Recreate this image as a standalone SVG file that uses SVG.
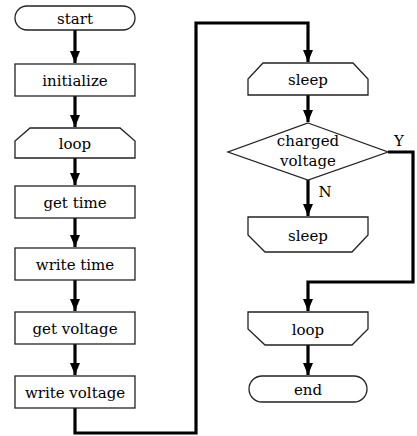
<svg xmlns="http://www.w3.org/2000/svg" width="417" height="436" viewBox="0 0 417 436">
<defs>
<marker id="ah" markerUnits="userSpaceOnUse" markerWidth="12" markerHeight="14" viewBox="0 0 12 14" refX="12" refY="6" orient="auto">
<path d="M0,1 L12,6 L0,11 Z" fill="#000"/>
</marker>
</defs>
<style>
.n{fill:#fff;stroke:#222;stroke-width:1.3}
.t{font-family:"DejaVu Serif",serif;font-size:15px;fill:#000;text-anchor:middle}
.c{fill:none;stroke:#000;stroke-width:3.2}
</style>
<rect width="417" height="436" fill="#fff"/>
<g id="connectors">
<path class="c" d="M75,30 V63" marker-end="url(#ah)"/>
<path class="c" d="M75,96 V127" marker-end="url(#ah)"/>
<path class="c" d="M75,158 V185" marker-end="url(#ah)"/>
<path class="c" d="M75,218 V247" marker-end="url(#ah)"/>
<path class="c" d="M75,280 V311" marker-end="url(#ah)"/>
<path class="c" d="M75,344 V375" marker-end="url(#ah)"/>
<path class="c" d="M75,408 V433 H196 V23 H308 V62" marker-end="url(#ah)"/>
<path class="c" d="M308,95 V122" marker-end="url(#ah)"/>
<path class="c" d="M308,180 V216" marker-end="url(#ah)"/>
<path class="c" d="M388,152 H413 V282 H308 V311" marker-end="url(#ah)"/>
<path class="c" d="M308,345 V375" marker-end="url(#ah)"/>
</g>
<g id="start"><rect class="n" x="15" y="6" width="120" height="24" rx="12"/><text class="t" x="75" y="24">start</text></g>
<g id="initialize"><rect class="n" x="15" y="64" width="120" height="32"/><text class="t" x="75" y="86">initialize</text></g>
<g id="loop1"><path class="n" d="M15,158 V141 L30,128 H120 L135,141 V158 Z"/><text class="t" x="75" y="149">loop</text></g>
<g id="gettime"><rect class="n" x="15" y="186" width="120" height="32"/><text class="t" x="75" y="208">get time</text></g>
<g id="writetime"><rect class="n" x="15" y="248" width="120" height="32"/><text class="t" x="75" y="270">write time</text></g>
<g id="getvoltage"><rect class="n" x="15" y="312" width="120" height="32"/><text class="t" x="75" y="334">get voltage</text></g>
<g id="writevoltage"><rect class="n" x="15" y="376" width="120" height="32"/><text class="t" x="75" y="398">write voltage</text></g>
<g id="sleep1"><path class="n" d="M248,95 V79 L263,63 H353 L368,79 V95 Z"/><text class="t" x="308" y="85">sleep</text></g>
<g id="decision"><path class="n" d="M308,123 L388,152 L308,180 L228,152 Z"/><text class="t" x="308" y="146">charged</text><text class="t" x="308" y="166">voltage</text></g>
<text class="t" x="399" y="146">Y</text>
<text class="t" x="325" y="197">N</text>
<g id="sleep2"><path class="n" d="M248,217 V235 L265,252 H352 L368,235 V217 Z"/><text class="t" x="308" y="241">sleep</text></g>
<g id="loop2"><path class="n" d="M248,312 V329 L265,345 H352 L368,329 V312 Z"/><text class="t" x="308" y="335">loop</text></g>
<g id="end"><rect class="n" x="249" y="376" width="118" height="26" rx="13"/><text class="t" x="308" y="395">end</text></g>
</svg>
